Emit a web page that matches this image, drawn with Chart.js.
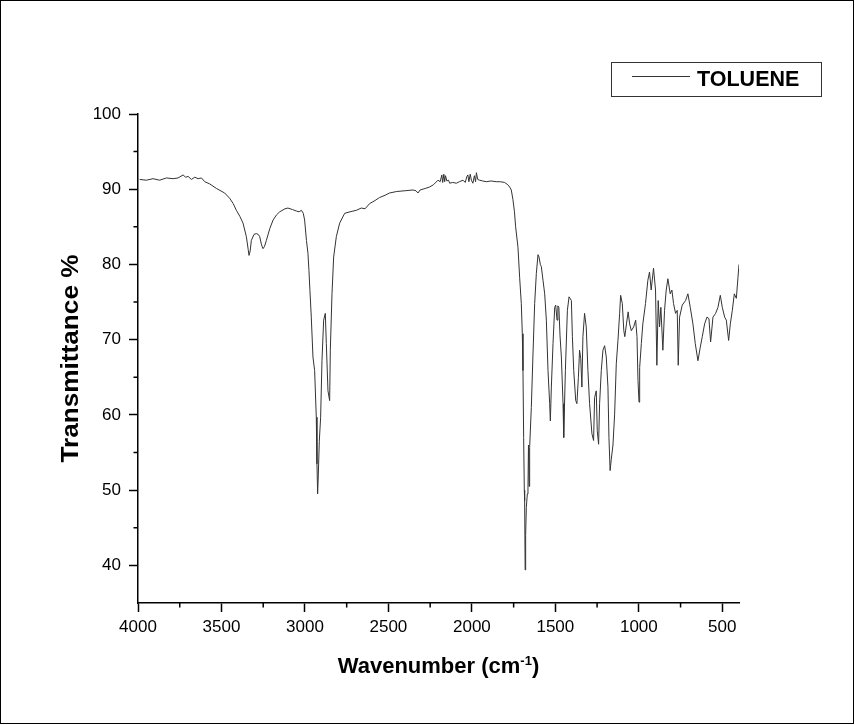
<!DOCTYPE html>
<html>
<head>
<meta charset="utf-8">
<script src="https://cdn.jsdelivr.net/npm/chart.js@4"></script>
<style>
  html, body { margin: 0; padding: 0; background: #fff; }
</style>
</head>
<body>
<canvas id="ctx" width="855" height="725"></canvas>
<script>
// IR spectrum (wavenumber in cm-1, transmittance in %)
const wavenumbers = [
    3990, 3950, 3910, 3870, 3830, 3790, 3760, 3730, 3715, 3700, 3680, 3660, 3640, 3620, 3600,
    3570, 3530, 3481, 3451, 3430, 3411, 3390, 3371, 3351, 3340, 3335, 3328, 3321, 3305, 3291,
    3280, 3271, 3260, 3251, 3242, 3231, 3210, 3191, 3170, 3151, 3120, 3102, 3075, 3051, 3035,
    3021, 3010, 3002, 2991, 2982, 2976, 2970, 2962, 2952, 2942, 2932, 2928, 2924, 2920, 2914,
    2906, 2898, 2888, 2878, 2872, 2862, 2852, 2848, 2838, 2828, 2812, 2792, 2762, 2730, 2692,
    2662, 2640, 2612, 2580, 2553, 2520, 2493, 2450, 2400, 2353, 2335, 2323, 2310, 2280, 2253,
    2230, 2203, 2190, 2180, 2175, 2168, 2163, 2158, 2150, 2140, 2133, 2115, 2093, 2075, 2053,
    2040, 2030, 2024, 2018, 2010, 2003, 1994, 1985, 1978, 1973, 1965, 1954, 1935, 1914, 1885,
    1854, 1830, 1804, 1785, 1774, 1764, 1754, 1745, 1738, 1724, 1714, 1704, 1698, 1694, 1690,
    1686, 1684, 1681, 1678, 1674, 1668, 1664, 1661, 1657, 1654, 1644, 1634, 1624, 1614, 1604,
    1598, 1590, 1584, 1574, 1564, 1554, 1544, 1534, 1530, 1524, 1514, 1504, 1498, 1490, 1485,
    1479, 1472, 1464, 1454, 1450, 1440, 1428, 1418, 1404, 1398, 1390, 1378, 1371, 1362, 1355,
    1348, 1341, 1335, 1325, 1315, 1305, 1295, 1281, 1271, 1265, 1255, 1249, 1241, 1235, 1225,
    1215, 1205, 1195, 1185, 1179, 1172, 1165, 1155, 1145, 1135, 1125, 1115, 1109, 1099, 1090,
    1084, 1074, 1064, 1055, 1045, 1031, 1019, 1011, 1005, 999, 995, 985, 976, 960, 946,
    936, 926, 912, 900, 892, 884, 876, 868, 856, 846, 836, 826, 812, 802, 792,
    780, 770, 764, 756, 740, 720, 706, 692, 676, 662, 646, 632, 620, 606, 592,
    580, 570, 556, 540, 526, 512, 500, 486, 476, 462, 452, 440, 428, 416, 406,
    400
];
const transmittance = [
    91.3, 91.2, 91.4, 91.2, 91.5, 91.4, 91.5, 91.9, 91.6, 91.7, 91.3, 91.6, 91.4, 91.5, 91.0,
    90.7, 90.1, 89.5, 88.8, 88.1, 87.2, 86.4, 85.5, 83.7, 82.0, 81.2, 81.8, 83.2, 84.0, 84.1,
    84.0, 83.7, 82.6, 82.1, 82.4, 83.2, 84.8, 85.9, 86.6, 87.0, 87.4, 87.5, 87.3, 87.1, 87.0,
    87.2, 86.8, 85.9, 83.2, 81.5, 79.2, 76.5, 73.0, 67.7, 65.9, 59.7, 53.5, 49.5, 52.0, 56.5,
    59.7, 67.2, 72.6, 73.5, 69.5, 63.2, 61.9, 68.6, 76.1, 81.0, 83.7, 85.5, 86.8, 87.0, 87.2,
    87.5, 87.4, 88.1, 88.5, 88.9, 89.2, 89.5, 89.7, 89.8, 89.9, 89.8, 89.5, 89.9, 90.1, 90.3,
    90.6, 91.2, 91.0, 91.9, 90.9, 92.0, 91.0, 91.8, 91.1, 91.2, 90.8, 90.9, 90.8, 91.0, 91.2,
    90.9, 91.7, 91.9, 91.0, 92.0, 91.2, 90.8, 91.8, 91.0, 92.2, 91.3, 91.2, 91.1, 91.0, 91.1,
    91.0, 91.0, 90.9, 90.6, 90.3, 89.9, 88.6, 87.0, 85.0, 82.3, 78.3, 74.8, 70.8, 65.9, 57.0,
    50.0, 48.6, 39.4, 44.0, 47.7, 49.5, 50.3, 56.0, 50.5, 55.7, 61.0, 68.1, 74.8, 78.8, 81.3,
    81.0, 80.0, 79.7, 77.9, 76.1, 72.6, 65.9, 61.5, 59.2, 63.7, 69.5, 74.3, 74.6, 72.6, 74.5,
    74.3, 70.5, 67.7, 61.5, 57.0, 65.9, 73.9, 75.7, 75.2, 70.4, 65.9, 61.9, 61.5, 65.0, 68.6,
    67.5, 63.7, 70.4, 73.5, 71.7, 65.9, 61.5, 57.5, 56.6, 62.3, 63.2, 57.9, 56.1, 61.5, 65.9,
    68.6, 69.2, 67.7, 63.7, 57.0, 52.6, 54.1, 56.0, 60.1, 66.8, 69.9, 73.5, 75.9, 74.8, 71.2,
    70.4, 72.1, 73.7, 72.1, 71.2, 71.7, 72.6, 70.4, 64.6, 61.7, 66.3, 69.5, 72.1, 74.8, 77.9,
    79.0, 76.6, 79.5, 76.6, 66.6, 75.2, 71.7, 74.3, 68.6, 73.9, 76.6, 78.1, 76.1, 76.6, 74.8,
    73.5, 73.9, 66.6, 73.0, 74.6, 75.2, 76.1, 74.3, 72.1, 69.5, 67.2, 69.0, 70.4, 72.1, 73.0,
    72.8, 69.7, 73.0, 73.5, 74.3, 75.9, 74.3, 73.0, 72.6, 69.9, 72.1, 73.9, 76.1, 75.5, 78.3,
    80.0
];
const seriesLabel = 'TOLUENE';
const xTitle = 'Wavenumber (cm';
const xTitleSup = '-1';
const yTitle = 'Transmittance %';

const FONT = '"Liberation Sans", Arial, sans-serif';
const ink = '#000';

// border, minor ticks, legend box and axis titles
const decorations = {
    id: 'decorations',
    afterDraw(chart) {
        const c = chart.ctx;
        const xs = chart.scales.x, ys = chart.scales.y;
        const area = chart.chartArea;
        c.save();

        c.strokeStyle = ink;
        c.lineWidth = 1;
        c.strokeRect(0.5, 0.5, chart.width - 2, chart.height - 2);

        // minor ticks
        c.lineWidth = 1.5;
        c.beginPath();
        xs.ticks.forEach(t => {
            if (t.value % 500 === 250) {
                const px = xs.getPixelForValue(t.value);
                c.moveTo(px, area.bottom);
                c.lineTo(px, area.bottom + 4.5);
            }
        });
        ys.ticks.forEach(t => {
            if (t.value % 10 === 5 && t.value !== ys.min) {
                const py = ys.getPixelForValue(t.value);
                c.moveTo(area.left, py);
                c.lineTo(area.left - 4.5, py);
            }
        });
        c.stroke();

        // legend
        c.lineWidth = 1;
        c.strokeStyle = '#333';
        c.strokeRect(611.5, 62.5, 210, 34);
        c.beginPath();
        c.strokeStyle = chart.data.datasets[0].borderColor;
        c.moveTo(632, 76.5);
        c.lineTo(690, 76.5);
        c.stroke();
        c.fillStyle = ink;
        c.font = 'bold 21.5px ' + FONT;
        c.textAlign = 'left';
        c.textBaseline = 'alphabetic';
        c.fillText(chart.data.datasets[0].label, 697, 86);

        // x title with superscript
        const mainFont = 'bold 22px ' + FONT;
        const supFont = 'bold 13px ' + FONT;
        c.font = mainFont;
        const w1 = c.measureText(xTitle).width;
        const w3 = c.measureText(')').width;
        c.font = supFont;
        const w2 = c.measureText(xTitleSup).width;
        const cx = (area.left + area.right) / 2;
        const x0 = cx - (w1 + w2 + w3) / 2;
        const base = 673;
        c.font = mainFont;
        c.fillText(xTitle, x0, base);
        c.font = supFont;
        c.fillText(xTitleSup, x0 + w1, base - 8);
        c.font = mainFont;
        c.fillText(')', x0 + w1 + w2, base);

        // y title, a little stretched along its length like the original
        c.translate(78, (area.top + area.bottom) / 2);
        c.rotate(-Math.PI / 2);
        c.textAlign = 'center';
        c.font = 'bold 23px ' + FONT;
        const yw = c.measureText(yTitle).width;
        c.scale(208 / yw, 1);
        c.fillText(yTitle, 0, 0);

        c.restore();
    }
};

const ctx = document.getElementById('ctx');
new Chart(ctx, {
    type: 'line',
    data: {
        datasets: [{
            label: seriesLabel,
            data: wavenumbers.map((w, i) => ({ x: w, y: transmittance[i] })),
            borderColor: '#333',
            borderWidth: 1,
            pointRadius: 0,
            tension: 0,
            fill: false
        }]
    },
    options: {
        responsive: false,
        devicePixelRatio: 1,
        animation: false,
        layout: { padding: { left: 0, top: 114, right: 116, bottom: 0 } },
        plugins: {
            legend: { display: false },
            tooltip: { enabled: false }
        },
        scales: {
            x: {
                type: 'linear',
                reverse: true,
                min: 400,
                max: 4000,
                afterFit: s => { s.height = 122; },
                border: { color: ink, width: 1.5 },
                grid: {
                    drawOnChartArea: false,
                    tickLength: 9,
                    tickWidth: 1.5,
                    tickColor: c => (c.tick && c.tick.value % 500 === 0) ? ink : 'transparent'
                },
                ticks: {
                    stepSize: 250,
                    includeBounds: false,
                    autoSkip: false,
                    maxRotation: 0,
                    padding: 5,
                    color: ink,
                    font: { family: FONT, size: 17 },
                    callback: v => v % 500 === 0 ? String(v) : ''
                }
            },
            y: {
                min: 35,
                max: 100,
                afterFit: s => { s.width = 138; },
                border: { color: ink, width: 1.5 },
                grid: {
                    drawOnChartArea: false,
                    tickLength: 9,
                    tickWidth: 1.5,
                    tickColor: c => (c.tick && c.tick.value % 10 === 0) ? ink : 'transparent'
                },
                ticks: {
                    stepSize: 5,
                    autoSkip: false,
                    padding: 8,
                    color: ink,
                    font: { family: FONT, size: 17 },
                    callback: v => v % 10 === 0 ? String(v) : ''
                }
            }
        }
    },
    plugins: [decorations]
});
</script>
</body>
</html>
